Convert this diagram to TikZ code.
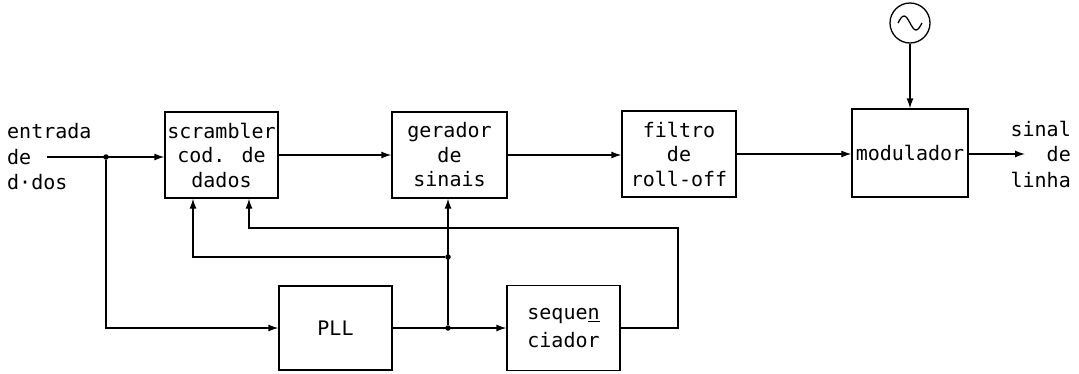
\documentclass[tikz,border=0pt]{standalone}
\usepackage{fontspec}
\setmainfont{DejaVu Sans Mono}
\usetikzlibrary{arrows.meta}
\begin{document}
\begin{tikzpicture}[x=1pt,y=-1pt,
  blk/.style={draw, line width=1.3pt, inner sep=0pt, align=center,
    font=\fontsize{20}{24.5}\selectfont},
  lbl/.style={inner sep=0pt, font=\fontsize{20}{25.5}\selectfont},
  conn/.style={line width=1.3pt},
  arr/.style={conn, -{Latex[length=10pt,width=7pt]}},
  dot/.style={circle, fill, inner sep=0pt, minimum size=5.5pt}
]
\useasboundingbox (0,0) rectangle (1079,373);

% blocks of the transmitter
\node[blk, minimum width=113pt, minimum height=86pt] (scr) at (221.5,155) {scrambler\\cod. de\\dados};
\node[blk, minimum width=115pt, minimum height=86pt] (gen) at (449.5,155) {gerador\\de\\sinais};
\node[blk, minimum width=114pt, minimum height=86pt] (fil) at (679,154) {filtro\\de\\roll-off};
\node[blk, minimum width=116pt, minimum height=88pt] (mod) at (910,153) {modulador};
\node[blk, minimum width=113pt, minimum height=84pt] (pll) at (335.5,328) {PLL};
\node[blk, minimum width=113pt, minimum height=85pt] (seq) at (563.5,328) {seque\underline{n}\\[3pt]ciador};

% carrier oscillator
\node[draw, circle, line width=1.3pt, minimum size=40pt, inner sep=0pt] (osc) at (910,23) {};
\draw[conn] ([xshift=-12pt]osc.center) sin ([xshift=-6pt,yshift=7pt]osc.center)
  cos (osc.center) sin ([xshift=6pt,yshift=-7pt]osc.center) cos ([xshift=12pt]osc.center);

% input and output labels
\node[lbl, anchor=west, align=left] (inlbl) at (7,157) {entrada\\de\\d·dos};
\node[lbl, anchor=east, align=right] (outlbl) at (1071,154) {sinal\\de\\linha};
\coordinate (in) at (47,157);
\coordinate (out) at (1025,154);

% main signal path
\node[dot] (j0) at (106,157) {};
\draw[arr] (in) -- (scr.west |- in);
\draw[arr] (scr.east) -- (gen.west);
\draw[arr] (gen.east) -- (fil.west |- gen.east);
\draw[arr] (fil.east) -- (mod.west |- fil.east);
\draw[arr] (mod.east |- out) -- (out);
\draw[arr] (osc.south) -- (mod.north);

% clock recovery and sequencing
\draw[arr] (j0) |- (pll.west);
\draw[arr] (pll.east) -- (seq.west);
\node[dot] (j1) at (448,328) {};
\node[dot] (j2) at (448,257) {};
\draw[arr] (j1) -- (gen.south -| j1);
\draw[arr] (j2) -| ([xshift=-28.5pt]scr.south);
\coordinate (fbk) at (678,228);
\draw[arr] (seq.east) -| (fbk) -| ([xshift=27.5pt]scr.south);
\end{tikzpicture}
\end{document}
